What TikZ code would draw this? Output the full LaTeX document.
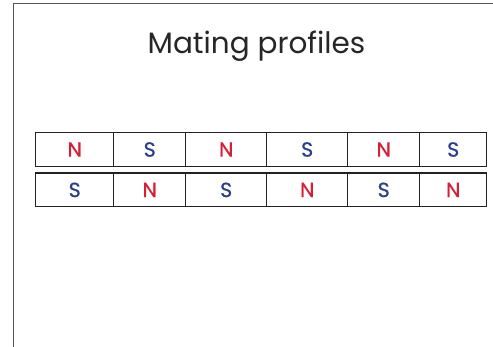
\documentclass[tikz,border=0pt]{standalone}
\usepackage{fontspec}
\setmainfont{Poppins}
\newfontfamily\letterfont{Poppins}[FakeBold=0.7]
\definecolor{nred}{HTML}{D81E34}
\definecolor{sblue}{HTML}{2A3D91}
\definecolor{framegray}{HTML}{555555}
\definecolor{cellline}{HTML}{222222}
\begin{document}
\begin{tikzpicture}[x=1pt,y=-1pt,
  frameline/.style={draw=framegray, line width=0.9pt},
  titletext/.style={font=\fontsize{29.5}{32}\selectfont, text=black!85, anchor=base, inner sep=0},
  cell/.style={draw=cellline, line width=1.4pt, minimum height=33.6pt, inner sep=0, anchor=north west, font=\letterfont\fontsize{20.5}{24}\selectfont}]
\useasboundingbox (0,0) rectangle (493,347);
\draw[frameline] (13,347) -- (13,3) -- (493,3);
\node[titletext] (title) at (256.5,53.3) {Mating profiles};
\foreach \i/\x/\w/\a/\ca/\b/\cb in {1/35/78/N/nred/S/sblue, 2/113/72/S/sblue/N/nred, 3/185/81/N/nred/S/sblue, 4/266/81/S/sblue/N/nred, 5/347/72/N/nred/S/sblue, 6/419/67/S/sblue/N/nred}{
  \node[cell, minimum width=\w pt, text=\ca] (ra\i) at (\x,132) {\a};
  \node[cell, minimum width=\w pt, text=\cb] (rb\i) at (\x,172.4) {\b};
}
\end{tikzpicture}
\end{document}
